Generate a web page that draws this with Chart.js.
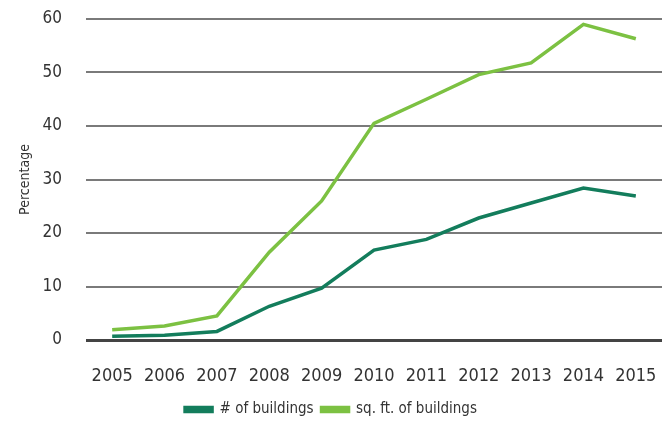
<!DOCTYPE html>
<html>
<head>
<meta charset="utf-8">
<script src="https://cdn.jsdelivr.net/npm/chart.js@4"></script>
<style>
    html, body { margin: 0; padding: 0; background: #fff; }
    #wrap { width: 671px; height: 427px; }
</style>
</head>
<body>
<div id="wrap"><canvas id="buildings-chart" width="671" height="427"></canvas></div>
<script>
var years = ['2005', '2006', '2007', '2008', '2009', '2010', '2011', '2012', '2013', '2014', '2015'];
var num_buildings = [0.7, 0.9, 1.6, 6.3, 9.7, 16.8, 18.8, 22.8, 25.6, 28.4, 26.9];
var sqft_buildings = [1.9, 2.6, 4.5, 16.4, 26.0, 40.5, 45.0, 49.6, 51.8, 59.0, 56.3];
var y_ticks = [0, 10, 20, 30, 40, 50, 60];

var FONT = "'DejaVu Sans Condensed', 'Liberation Sans Narrow', sans-serif";
var TEXT_COLOR = '#333333';

Chart.defaults.font.family = FONT;
Chart.defaults.color = TEXT_COLOR;

var ctx = document.getElementById('buildings-chart');
var BuildingsChart = new Chart(ctx, {
    type: 'line',
    data: {
        labels: years,
        datasets: [
            {
                label: '# of buildings',
                data: num_buildings,
                borderColor: '#137d5c',
                backgroundColor: '#137d5c',
                borderWidth: 3.5,
                pointRadius: 0,
                tension: 0
            },
            {
                label: 'sq. ft. of buildings',
                data: sqft_buildings,
                borderColor: '#7cc142',
                backgroundColor: '#7cc142',
                borderWidth: 3.5,
                pointRadius: 0,
                tension: 0
            }
        ]
    },
    options: {
        responsive: false,
        animation: false,
        layout: {
            padding: { top: 19, right: 9, left: 0, bottom: 0 }
        },
        plugins: {
            tooltip: { enabled: false },
            legend: {
                position: 'bottom',
                labels: {
                    boxWidth: 27,
                    boxHeight: 4,
                    padding: 8,
                    color: TEXT_COLOR,
                    font: { size: 15 }
                }
            }
        },
        scales: {
            x: {
                offset: true,
                grid: { display: false, drawTicks: false },
                border: { display: false },
                ticks: {
                    padding: 26,
                    maxRotation: 0,
                    autoSkip: false,
                    font: { size: 18 }
                },
                afterFit: function (scale) {
                    scale.height = 54;
                    scale.paddingLeft = 0;
                    scale.paddingRight = 0;
                }
            },
            y: {
                min: 0,
                max: 60,
                afterBuildTicks: function (scale) {
                    scale.ticks = y_ticks.map(function (v) { return { value: v }; });
                },
                grid: {
                    drawTicks: false,
                    color: function (c) { return c.tick && c.tick.value === 0 ? '#444444' : '#7a7a7a'; },
                    lineWidth: function (c) { return c.tick && c.tick.value === 0 ? 3 : 2; }
                },
                border: { display: false },
                ticks: {
                    padding: 24,
                    font: { size: 17 }
                },
                title: {
                    display: true,
                    text: 'Percentage',
                    padding: { top: 17, bottom: 0 },
                    font: { size: 14 }
                },
                afterFit: function (scale) {
                    scale.width = 86;
                    scale.paddingTop = 0;
                    scale.paddingBottom = 0;
                }
            }
        }
    }
});
</script>
</body>
</html>
